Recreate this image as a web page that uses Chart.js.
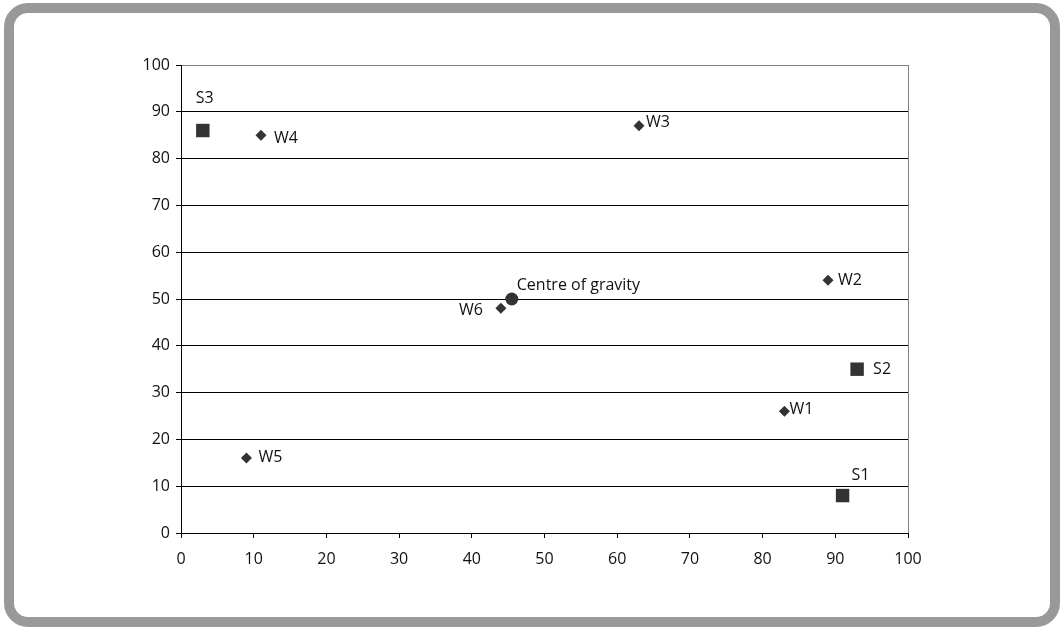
<!DOCTYPE html>
<html>
<head>
<meta charset="utf-8">
<script src="https://cdn.jsdelivr.net/npm/chart.js@4"></script>
<style>
  html, body { margin: 0; padding: 0; background: #fff; }
  #wrap { position: relative; width: 1062px; height: 627px; overflow: hidden; }
  #frame {
    position: absolute; left: 4px; top: 3px; width: 1056px; height: 624px;
    box-sizing: border-box; border: 10px solid #999; border-radius: 24px;
  }
  #plot { position: absolute; left: 0; top: 0; }
</style>
</head>
<body>
<div id="wrap">
  <div id="frame"></div>
  <canvas id="plot" width="1062" height="627"></canvas>
</div>
<script>
// warehouses (demand points)
const warehouseNames = ['W1', 'W2', 'W3', 'W4', 'W5', 'W6'];
const warehouseX = [83, 89, 63, 11, 9, 44];
const warehouseY = [26, 54, 87, 85, 16, 48];

// supply points
const sourceNames = ['S1', 'S2', 'S3'];
const sourceX = [91, 93, 3];
const sourceY = [8, 35, 86];

// computed location
const centreNames = ['Centre of gravity'];
const centreX = [45.5];
const centreY = [50];

const axisTicks = [0, 10, 20, 30, 40, 50, 60, 70, 80, 90, 100];

// where each label sits relative to its marker: [dx, dy, align]
const labelPlacement = {
  'W1': [5, -2, 'left'],
  'W2': [10, 0, 'left'],
  'W3': [7, -3, 'left'],
  'W4': [13, 3, 'left'],
  'W5': [12, -1, 'left'],
  'W6': [-18, 2, 'right'],
  'S1': [18, -20, 'center'],
  'S2': [16, 0, 'left'],
  'S3': [2, -32, 'center'],
  'Centre of gravity': [5, -14, 'left']
};

const FONT = '"Open Sans", "Noto Sans", sans-serif';

function pts(xs, ys, names) {
  return xs.map((x, i) => ({ x: x, y: ys[i], name: names[i] }));
}

const pointLabels = {
  id: 'pointLabels',
  afterDatasetsDraw(chart) {
    const ctx = chart.ctx;
    ctx.save();
    ctx.font = '16px ' + FONT;
    ctx.fillStyle = '#111';
    ctx.textBaseline = 'middle';
    chart.data.datasets.forEach((ds, di) => {
      chart.getDatasetMeta(di).data.forEach((el, i) => {
        const name = ds.data[i].name;
        const p = labelPlacement[name] || [8, 0, 'left'];
        ctx.textAlign = p[2];
        ctx.fillText(name, el.x + p[0], el.y + p[1]);
      });
    });
    ctx.restore();
  }
};

const ctx = document.getElementById('plot').getContext('2d');
new Chart(ctx, {
  type: 'scatter',
  data: {
    datasets: [
      {
        label: 'Warehouses',
        data: pts(warehouseX, warehouseY, warehouseNames),
        pointStyle: 'rectRot',
        pointRadius: 5.5,
        backgroundColor: '#333',
        borderColor: '#333',
        borderWidth: 0
      },
      {
        label: 'Sources',
        data: pts(sourceX, sourceY, sourceNames),
        pointStyle: 'rect',
        pointRadius: 9.5,
        backgroundColor: '#333',
        borderColor: '#333',
        borderWidth: 0
      },
      {
        label: 'Centre',
        data: pts(centreX, centreY, centreNames),
        pointStyle: 'circle',
        pointRadius: 6.5,
        backgroundColor: '#333',
        borderColor: '#333',
        borderWidth: 0
      }
    ]
  },
  options: {
    responsive: false,
    animation: false,
    layout: { padding: { left: 131, top: 65, right: 154, bottom: 54 } },
    plugins: { legend: { display: false }, tooltip: { enabled: false } },
    scales: {
      x: {
        type: 'linear',
        min: 0, max: 100,
        afterBuildTicks: s => { s.ticks = axisTicks.map(v => ({ value: v })); },
        afterFit: s => { s.height = 40; },
        border: { color: '#000', width: 1 },
        grid: {
          drawOnChartArea: true,
          color: c => (c.tick && c.tick.value === 100 ? '#808080' : 'rgba(0,0,0,0)'),
          tickColor: '#000',
          tickLength: 5
        },
        ticks: { color: '#111', padding: 12, font: { family: FONT, size: 16 } }
      },
      y: {
        type: 'linear',
        min: 0, max: 100,
        afterBuildTicks: s => { s.ticks = axisTicks.map(v => ({ value: v })); },
        afterFit: s => { s.width = 50; },
        border: { color: '#000', width: 1 },
        grid: {
          color: c => (c.tick && c.tick.value === 100 ? '#808080' : '#000'),
          tickColor: '#000',
          tickLength: 5
        },
        ticks: { color: '#111', padding: 6, font: { family: FONT, size: 16 } }
      }
    }
  },
  plugins: [pointLabels]
});
</script>
</body>
</html>
